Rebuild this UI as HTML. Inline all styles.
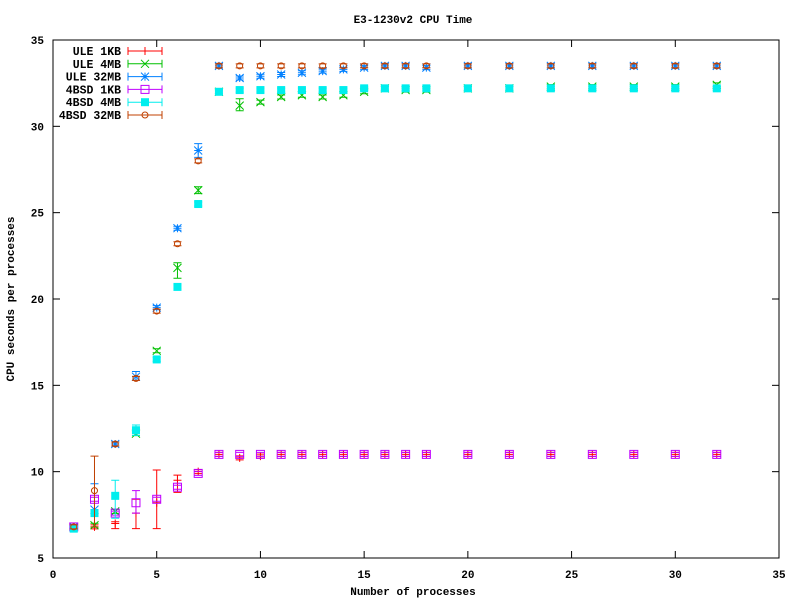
<!DOCTYPE html>
<html><head><meta charset="utf-8"><style>
body{margin:0;background:#fff}
text{font-family:"Liberation Mono",monospace;font-size:11px;font-weight:bold}
</style></head><body>
<svg id="s" width="800" height="600" xmlns="http://www.w3.org/2000/svg">
<rect width="800" height="600" fill="#fff"/>
<text x="413" y="23" text-anchor="middle">E3-1230v2 CPU Time</text>
<text x="413" y="595" text-anchor="middle">Number of processes</text>
<text transform="translate(14,299) rotate(-90)" text-anchor="middle">CPU seconds per processes</text>
<g id="g"></g>
</svg>
<script>
var X=v=>53+v*20.743, Y=v=>558-(v-5)*17.267;
var g=document.getElementById('g'), h='';
h+='<rect x="53" y="40" width="726" height="518" fill="none" stroke="#000"/>';
for(var i=0;i<=35;i+=5){var x=X(i);h+=`<line x1="${x}" y1="558" x2="${x}" y2="551" stroke="#000"/><line x1="${x}" y1="40" x2="${x}" y2="47" stroke="#000"/><text x="${x}" y="578" text-anchor="middle">${i}</text>`;}
for(var i=5;i<=35;i+=5){var y=Y(i);h+=`<line x1="53" y1="${y}" x2="60" y2="${y}" stroke="#000"/><line x1="779" y1="${y}" x2="772" y2="${y}" stroke="#000"/><text x="44" y="${y+4}" text-anchor="end">${i}</text>`;}
var xs=[1,2,3,4,5,6,7,8,9,10,11,12,13,14,15,16,17,18,20,22,24,26,28,30,32];
function tail(a,v,n){while(a.length<n)a.push(v);return a;}
var S=[
 ['ULE 1KB','#ff0000','plus',tail([6.8,6.8,7.0,7.6,8.2,9.5,10.0,11.0,10.8,10.9],11.0,25),{3:[6.7,7.1],4:[6.7,8.4],5:[6.7,10.1],6:[8.8,9.8]}],
 ['ULE 4MB','#00c000','x',[6.8,6.9,7.7,12.2,17.0,21.8,26.3,32.0,31.2,31.4,31.7,31.8,31.7,31.8,32.0,32.2,32.1,32.1,32.2,32.2,32.3,32.3,32.3,32.3,32.4],{6:[21.2,22.1],9:[30.9,31.6],7:[26.1,26.5]}],
 ['ULE 32MB','#0080ff','star',[6.8,7.8,11.6,15.5,19.5,24.1,28.6,33.5,32.8,32.9,33.0,33.1,33.2,33.3,33.4,33.5,33.5,33.4,33.5,33.5,33.5,33.5,33.5,33.5,33.5],{2:[7.6,9.3],7:[28.2,29.0],4:[15.3,15.8]}],
 ['4BSD 1KB','#c000ff','box',tail([6.8,8.4,7.6,8.2,8.4,9.1,9.9],11.0,25),{4:[7.6,8.9]}],
 ['4BSD 4MB','#00eeee','fbox',tail([6.7,7.6,8.6,12.4,16.5,20.7,25.5,32.0,32.1,32.1,32.1,32.1,32.1,32.1,32.2],32.2,25),{3:[7.3,9.5],4:[12.1,12.7]}],
 ['4BSD 32MB','#c04000','circ',tail([6.8,8.9,11.6,15.4,19.3,23.2,28.0],33.5,25),{2:[6.8,10.9]}]
];
function mk(t,c,x,y){var s='stroke="'+c+'" fill="none"';
 if(t=='plus')return `<path d="M${x-4} ${y}h8M${x} ${y-4}v8" ${s}/>`;
 if(t=='x')return `<path d="M${x-4} ${y-4}l8 8M${x-4} ${y+4}l8 -8" ${s}/>`;
 if(t=='star')return `<path d="M${x-4} ${y}h8M${x} ${y-4}v8M${x-4} ${y-4}l8 8M${x-4} ${y+4}l8 -8" ${s}/>`;
 if(t=='box')return `<rect x="${x-4}" y="${y-4}" width="8" height="8" ${s}/>`;
 if(t=='fbox')return `<rect x="${x-4}" y="${y-4}" width="8" height="8" fill="${c}"/>`;
 return `<circle cx="${x}" cy="${y}" r="3" ${s}/>`;}
S.forEach((s,k)=>{var c=s[1];
 s[3].forEach((v,i)=>{var x=X(xs[i]),y=Y(v);var e=s[4][xs[i]];
  if(e){var a=Y(e[0]),b=Y(e[1]);h+=`<path d="M${x} ${a}V${b}M${x-4} ${a}h8M${x-4} ${b}h8" stroke="${c}" fill="none"/>`;}
  else h+=`<path d="M${x-4} ${y-2}h8M${x-4} ${y+2}h8" stroke="${c}" fill="none"/>`;
  h+=mk(s[2],c,x,y);});
 var ly=51+k*12.8;
 h+=`<text x="121" y="${ly+4}" text-anchor="end" style="font-size:11.5px">${s[0]}</text><path d="M128 ${ly}h34M128 ${ly-4}v8M162 ${ly-4}v8" stroke="${c}" fill="none"/>`+mk(s[2],c,145,ly);
});
g.innerHTML=h;
</script>
</body></html>
